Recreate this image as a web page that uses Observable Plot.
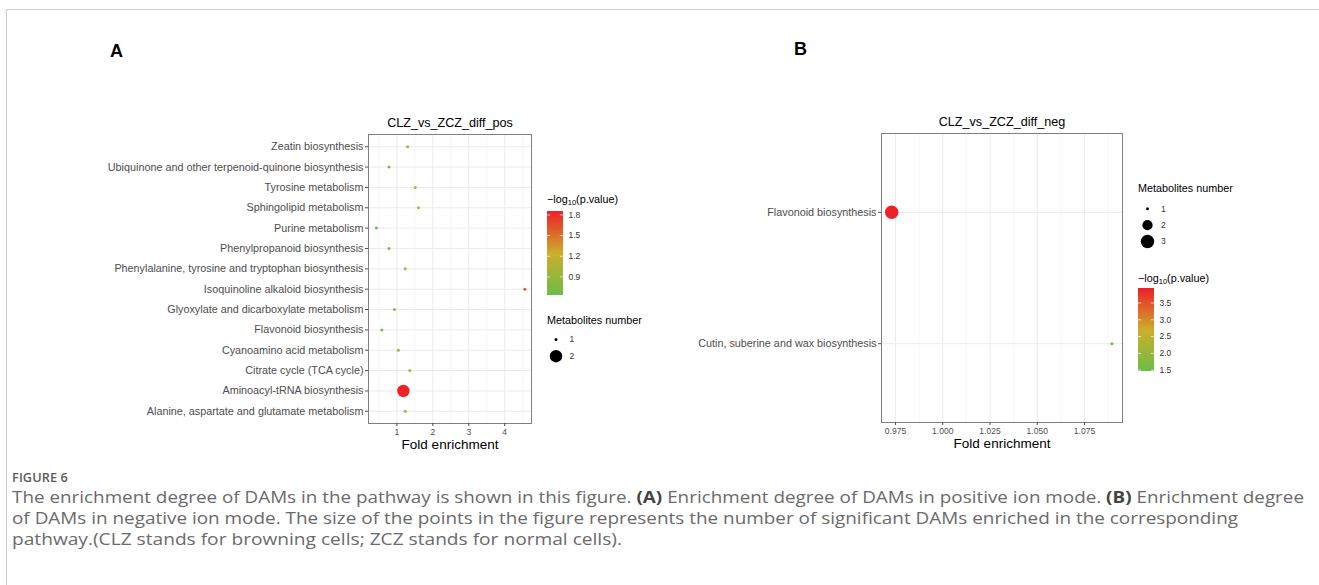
<!DOCTYPE html>
<html>
<head>
<meta charset="utf-8">
<script src="https://cdn.jsdelivr.net/npm/d3@7"></script>
<script src="https://cdn.jsdelivr.net/npm/@observablehq/plot@0.6"></script>
<style>
  html, body { margin: 0; padding: 0; background: #fff; }
  body { width: 1319px; height: 585px; position: relative; overflow: hidden; font-family: "Liberation Sans", Arial, sans-serif; }
  .frameBox { position: absolute; left: 6px; top: 9px; right: -2px; bottom: -2px; border-top: 1px solid #cfcfcf; border-left: 1px solid #cfcfcf; }
  .panelLetter { position: absolute; font-weight: bold; font-size: 18px; line-height: 18px; color: #000; }
  .legTitle { position: absolute; font-size: 10.8px; line-height: 12px; color: #000; white-space: nowrap; }
  .legTitle sub { font-size: 7.5px; vertical-align: -2px; line-height: 0; }
  .cap { position: absolute; left: 12px; white-space: nowrap; font-family: "Open Sans", sans-serif; color: #6a6a6a; transform-origin: 0 0; }
  .capline { font-size: 15.5px; line-height: 21px; }
  .capline b { color: #444; }
  .figlabel { font-size: 12.5px; font-weight: 600; letter-spacing: 0.1px; color: #5a5a5a; }
</style>
</head>
<body>
<div class="frameBox"></div>
<div class="panelLetter" style="left:110px; top:42px;">A</div>
<div class="panelLetter" style="left:794px; top:40px;">B</div>
<div id="root"></div>

<div class="cap figlabel" data-w="56" style="top:469px;">FIGURE 6</div>
<div class="cap capline" data-w="1292" style="top:487px;">The enrichment degree of DAMs in the pathway is shown in this figure. <b>(A)</b> Enrichment degree of DAMs in positive ion mode. <b>(B)</b> Enrichment degree</div>
<div class="cap capline" data-w="1226" style="top:508px;">of DAMs in negative ion mode. The size of the points in the figure represents the number of significant DAMs enriched in the corresponding</div>
<div class="cap capline" data-w="610" style="top:529px;">pathway.(CLZ stands for browning cells; ZCZ stands for normal cells).</div>

<script>
// ---------------- DATA ----------------
// Panel A (positive ion mode)
const titleA = "CLZ_vs_ZCZ_diff_pos";
const pathwaysA = [
  "Zeatin biosynthesis",
  "Ubiquinone and other terpenoid-quinone biosynthesis",
  "Tyrosine metabolism",
  "Sphingolipid metabolism",
  "Purine metabolism",
  "Phenylpropanoid biosynthesis",
  "Phenylalanine, tyrosine and tryptophan biosynthesis",
  "Isoquinoline alkaloid biosynthesis",
  "Glyoxylate and dicarboxylate metabolism",
  "Flavonoid biosynthesis",
  "Cyanoamino acid metabolism",
  "Citrate cycle (TCA cycle)",
  "Aminoacyl-tRNA biosynthesis",
  "Alanine, aspartate and glutamate metabolism"
];
const foldA  = [1.30, 0.78, 1.51, 1.60, 0.43, 0.78, 1.23, 4.56, 0.93, 0.58, 1.04, 1.36, 1.18, 1.23];
const logpA  = [1.00, 0.80, 1.10, 1.15, 0.63, 0.80, 0.97, 1.60, 0.85, 0.70, 0.90, 1.03, 1.835, 0.97];
const countA = [1, 1, 1, 1, 1, 1, 1, 1, 1, 1, 1, 1, 2, 1];
const xTicksA = [1, 2, 3, 4];
const xMinorA = [0.5, 1.5, 2.5, 3.5, 4.5];
const colorTicksA = [0.9, 1.2, 1.5, 1.8];
const sizeKeysA = [1, 2];

// Panel B (negative ion mode)
const titleB = "CLZ_vs_ZCZ_diff_neg";
const pathwaysB = ["Flavonoid biosynthesis", "Cutin, suberine and wax biosynthesis"];
const foldB  = [0.973, 1.0895];
const logpB  = [3.90, 1.45];
const countB = [3, 1];
const xTicksB = [0.975, 1.000, 1.025, 1.050, 1.075];
const xMinorB = [0.9875, 1.0125, 1.0375, 1.0625, 1.0875];
const colorTicksB = [1.5, 2.0, 2.5, 3.0, 3.5];
const sizeKeysB = [1, 2, 3];

const xLabel = "Fold enrichment";
const gradientColors = ["#6BBD45", "#CDAE2C", "#EC2227"];

// ---------------- HELPERS ----------------
const FONT = "'Liberation Sans', Arial, sans-serif";
const root = document.getElementById("root");
function place(el, left, top) {
  el.style.position = "absolute";
  el.style.left = left + "px";
  el.style.top = top + "px";
  root.appendChild(el);
}
function colorScale(domain) {
  return {type: "linear", domain: [domain[0], (domain[0] + domain[1]) / 2, domain[1]], range: gradientColors, interpolate: "rgb"};
}

function panel({title, pathways, fold, logp, count, xDomain, xTicks, xMinor, xFormat, colorDomain, rDomain, rRange,
                width, height, mLeft, mRight, mTop, mBottom}) {
  const data = pathways.map((p, i) => ({pathway: p, fold: fold[i], logp: logp[i], n: count[i]}));
  return Plot.plot({
    width, height, marginLeft: mLeft, marginRight: mRight, marginTop: mTop, marginBottom: mBottom,
    style: {fontFamily: FONT, background: "transparent", overflow: "visible"},
    x: {domain: xDomain},
    y: {type: "point", domain: pathways, padding: 0.6, round: false},
    color: colorScale(colorDomain),
    r: {type: "linear", domain: rDomain, range: rRange},
    marks: [
      Plot.ruleX(xMinor, {stroke: "#f4f4f4", strokeWidth: 0.7}),
      Plot.ruleX(xTicks, {stroke: "#ebebeb", strokeWidth: 1}),
      Plot.ruleY(pathways, {y: d => d, stroke: "#ebebeb", strokeWidth: 1}),
      Plot.dot(data, {x: "fold", y: "pathway", r: "n", fill: "logp", stroke: null}),
      Plot.frame({stroke: "#7f7f7f", strokeWidth: 1}),
      Plot.axisX({ticks: xTicks, tickFormat: xFormat, tickSize: 3, tickPadding: 2, fontSize: 8.5,
                  color: "#4d4d4d", label: null}),
      Plot.axisY({tickSize: 3, tickPadding: 2, fontSize: 10.8, color: "#4d4d4d", label: null}),
      Plot.text([title], {frameAnchor: "top", lineAnchor: "bottom", dy: -8, fontSize: 12.6, fill: "#000"}),
      Plot.text([xLabel], {frameAnchor: "bottom", lineAnchor: "bottom", dy: 25, fontSize: 13.5, fill: "#000"})
    ]
  });
}

function colorBar({domain, ticks, height}) {
  const n = 80;
  const step = (domain[1] - domain[0]) / n;
  const slices = d3.range(n).map(i => [domain[0] + i * step, domain[0] + (i + 1) * step]);
  return Plot.plot({
    width: 46, height, marginLeft: 0, marginRight: 30, marginTop: 0, marginBottom: 0,
    style: {fontFamily: FONT, background: "transparent", overflow: "visible"},
    x: {domain: [0, 1], axis: null},
    y: {domain, axis: null},
    color: colorScale(domain),
    marks: [
      Plot.rect(slices, {x1: 0, x2: 1, y1: d => d[0], y2: d => d[1] + step * 0.6, fill: d => (d[0] + d[1]) / 2, shapeRendering: "crispEdges"}),
      Plot.ruleY(ticks, {x1: 0, x2: 0.2, stroke: "#ffffff", strokeOpacity: 0.7}),
      Plot.ruleY(ticks, {x1: 0.8, x2: 1, stroke: "#ffffff", strokeOpacity: 0.7}),
      Plot.axisY({anchor: "right", ticks, tickFormat: d3.format(".1f"), tickSize: 0, tickPadding: 5, fontSize: 8.5, color: "#333"})
    ]
  });
}

function sizeLegend({keys, rDomain, rRange, width, height, mTop, mBottom, mRight}) {
  return Plot.plot({
    width, height, marginLeft: 0, marginRight: mRight, marginTop: mTop, marginBottom: mBottom,
    style: {fontFamily: FONT, background: "transparent", overflow: "visible"},
    x: {axis: null},
    y: {type: "point", domain: keys, padding: 0, round: false, axis: null},
    r: {type: "linear", domain: rDomain, range: rRange},
    marks: [
      Plot.dot(keys, {y: d => d, r: d => d, fill: "#000", stroke: null}),
      Plot.text(keys, {y: d => d, text: d => String(d), dx: 13.5, textAnchor: "start", fontSize: 8.5, fill: "#333"})
    ]
  });
}

function legendTitle(html, left, top) {
  const d = document.createElement("div");
  d.className = "legTitle";
  d.innerHTML = html;
  d.style.left = left + "px";
  d.style.top = top + "px";
  root.appendChild(d);
}

// ---------------- PANEL A ----------------
const rDomainA = [1, 2], rRangeA = [1.5, 6.2];
place(panel({
  title: titleA, pathways: pathwaysA, fold: foldA, logp: logpA, count: countA,
  xDomain: [0.21, 4.745], xTicks: xTicksA, xMinor: xMinorA, xFormat: d3.format("d"),
  colorDomain: [0.63, 1.835], rDomain: rDomainA, rRange: rRangeA,
  width: 545, height: 460, mLeft: 368, mRight: 14, mTop: 134, mBottom: 37
}), 0, 0);
legendTitle("&minus;log<sub>10</sub>(p.value)", 547, 193);
place(colorBar({domain: [0.63, 1.835], ticks: colorTicksA, height: 83}), 547, 212);
legendTitle("Metabolites number", 547, 314);
place(sizeLegend({keys: sizeKeysA, rDomain: rDomainA, rRange: rRangeA, width: 40, height: 35, mTop: 9, mBottom: 9.3, mRight: 23}), 547, 330);

// ---------------- PANEL B ----------------
const rDomainB = [1, 2, 3], rRangeB = [1.5, 5.1, 6.7];
place(panel({
  title: titleB, pathways: pathwaysB, fold: foldB, logp: logpB, count: countB,
  xDomain: [0.9676, 1.0951], xTicks: xTicksB, xMinor: xMinorB, xFormat: d3.format(".3f"),
  colorDomain: [1.45, 3.90], rDomain: rDomainB, rRange: rRangeB,
  width: 470, height: 460, mLeft: 221, mRight: 8, mTop: 133, mBottom: 38
}), 660, 0);
legendTitle("Metabolites number", 1138, 182);
place(sizeLegend({keys: sizeKeysB, rDomain: rDomainB, rRange: rRangeB, width: 40, height: 50, mTop: 8.3, mBottom: 9, mRight: 22}), 1138, 200);
legendTitle("&minus;log<sub>10</sub>(p.value)", 1138, 272);
place(colorBar({domain: [1.45, 3.90], ticks: colorTicksB, height: 82.4}), 1138, 289.3);

// ---------------- CAPTION FIT ----------------
for (const el of document.querySelectorAll(".cap")) {
  const target = +el.dataset.w;
  const w = el.getBoundingClientRect().width;
  el.style.transform = `scaleX(${target / w})`;
}
</script>
</body>
</html>
